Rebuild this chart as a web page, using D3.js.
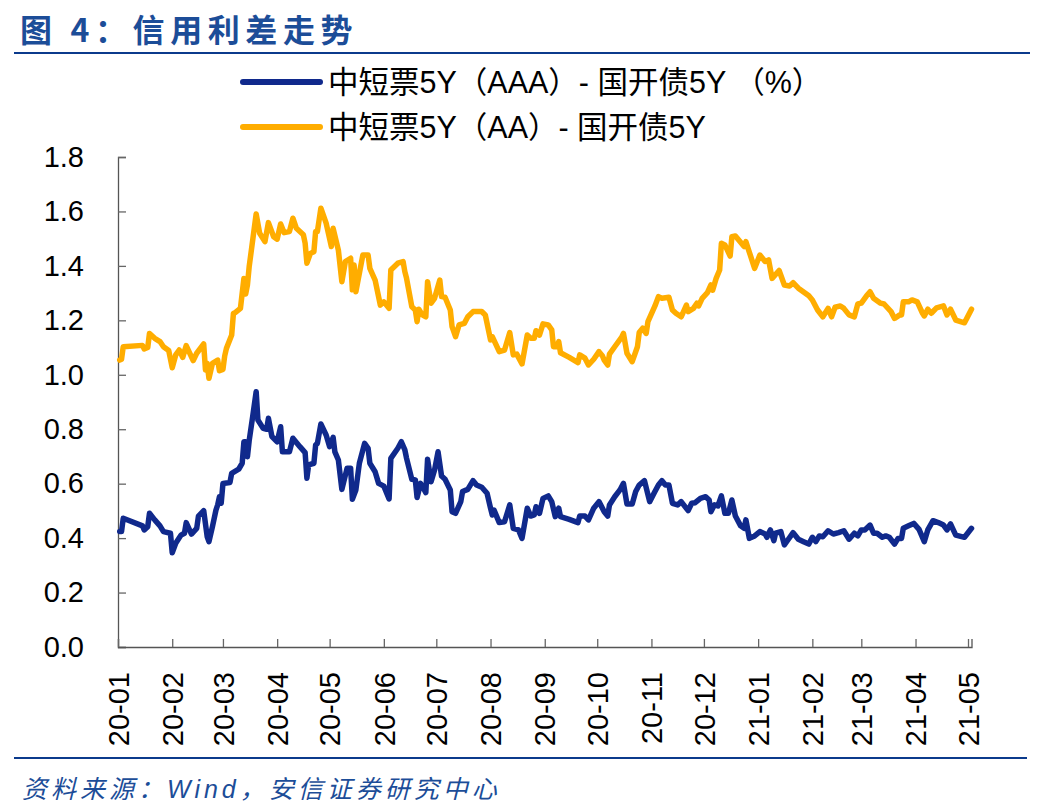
<!DOCTYPE html>
<html>
<head>
<meta charset="utf-8">
<script src="https://cdn.jsdelivr.net/npm/d3@7"></script>
<style>
	body { margin: 0; background: #fff; }
	svg { display: block; font-family: "Liberation Sans", "Noto Sans CJK SC", sans-serif; }
</style>
</head>
<body>
<svg class="svgWrapper" width="1052" height="807"></svg>
<script>

// 中短票5Y(AAA) - 国开债5Y
const aaaSpread = [
	["2020-01-02",0.424],["2020-01-03",0.424],["2020-01-04",0.473],["2020-01-15",0.445],["2020-01-16",0.43],["2020-01-18",0.442],
	["2020-01-19",0.491],["2020-01-22",0.467],["2020-01-25",0.445],["2020-01-27",0.424],["2020-01-31",0.418],["2020-02-01",0.346],
	["2020-02-03",0.381],["2020-02-06",0.411],["2020-02-08",0.418],["2020-02-09",0.457],["2020-02-12",0.415],["2020-02-15",0.436],
	["2020-02-16",0.481],["2020-02-19",0.501],["2020-02-21",0.405],["2020-02-22",0.387],["2020-02-24",0.442],["2020-02-26",0.503],
	["2020-02-27",0.522],["2020-02-28",0.552],["2020-02-29",0.528],["2020-03-01",0.601],["2020-03-05",0.604],["2020-03-06",0.638],
	["2020-03-10",0.653],["2020-03-12",0.675],["2020-03-13",0.754],["2020-03-14",0.754],["2020-03-15",0.699],["2020-03-16",0.758],
	["2020-03-18",0.846],["2020-03-20",0.938],["2020-03-21",0.834],["2020-03-24",0.803],["2020-03-26",0.80],["2020-03-27",0.84],
	["2020-03-29",0.773],["2020-04-01",0.754],["2020-04-03",0.809],["2020-04-04",0.717],["2020-04-08",0.717],["2020-04-10",0.767],
	["2020-04-14",0.736],["2020-04-17",0.714],["2020-04-18",0.62],["2020-04-19",0.669],["2020-04-22",0.675],["2020-04-23",0.742],
	["2020-04-24",0.748],["2020-04-26",0.819],["2020-04-29",0.779],["2020-05-01",0.736],["2020-05-03",0.77],["2020-05-04",0.717],
	["2020-05-06",0.687],["2020-05-08",0.579],["2020-05-11",0.657],["2020-05-13",0.657],["2020-05-14",0.543],["2020-05-16",0.577],
	["2020-05-18",0.675],["2020-05-21",0.748],["2020-05-23",0.73],["2020-05-24",0.675],["2020-05-27",0.644],["2020-05-29",0.601],
	["2020-06-01",0.591],["2020-06-04",0.544],["2020-06-05",0.693],["2020-06-09",0.73],["2020-06-11",0.754],["2020-06-13",0.724],
	["2020-06-14",0.693],["2020-06-17",0.616],["2020-06-19",0.614],["2020-06-20",0.549],["2020-06-22",0.601],["2020-06-23",0.591],
	["2020-06-25",0.567],["2020-06-26",0.69],["2020-06-28",0.607],["2020-06-30",0.65],["2020-07-02",0.717],["2020-07-04",0.628],
	["2020-07-06",0.616],["2020-07-09",0.577],["2020-07-10",0.497],["2020-07-12",0.491],["2020-07-15",0.534],["2020-07-16",0.571],
	["2020-07-19",0.579],["2020-07-22",0.611],["2020-07-24",0.595],["2020-07-27",0.587],["2020-07-30",0.565],["2020-08-01",0.51],
	["2020-08-02",0.485],["2020-08-03",0.503],["2020-08-06",0.457],["2020-08-09",0.46],["2020-08-12",0.522],["2020-08-14",0.436],
	["2020-08-17",0.43],["2020-08-19",0.399],["2020-08-22",0.51],["2020-08-24",0.481],["2020-08-26",0.485],["2020-08-27",0.515],
	["2020-08-29",0.491],["2020-08-31",0.546],["2020-09-03",0.555],["2020-09-05",0.534],["2020-09-07",0.479],["2020-09-09",0.51],
	["2020-09-10",0.479],["2020-09-15",0.469],["2020-09-20",0.457],["2020-09-21",0.481],["2020-09-24",0.481],["2020-09-26",0.467],
	["2020-09-29",0.51],["2020-10-02",0.534],["2020-10-05",0.497],["2020-10-07",0.481],["2020-10-08",0.522],["2020-10-11",0.552],
	["2020-10-14",0.577],["2020-10-16",0.601],["2020-10-18",0.525],["2020-10-21",0.525],["2020-10-23",0.571],["2020-10-25",0.595],
	["2020-10-28",0.611],["2020-10-31",0.534],["2020-11-03",0.571],["2020-11-05",0.595],["2020-11-07",0.611],["2020-11-09",0.595],
	["2020-11-11",0.595],["2020-11-13",0.528],["2020-11-16",0.522],["2020-11-18",0.534],["2020-11-22",0.501],["2020-11-24",0.528],
	["2020-11-26",0.53],["2020-11-29",0.546],["2020-12-02",0.552],["2020-12-04",0.54],["2020-12-05",0.497],["2020-12-07",0.522],
	["2020-12-09",0.518],["2020-12-11",0.555],["2020-12-13",0.491],["2020-12-15",0.491],["2020-12-17",0.54],["2020-12-19",0.481],
	["2020-12-22",0.445],["2020-12-24",0.436],["2020-12-25",0.467],["2020-12-27",0.399],["2020-12-30",0.408],["2021-01-02",0.424],
	["2021-01-05",0.415],["2021-01-06",0.403],["2021-01-08",0.43],["2021-01-10",0.391],["2021-01-11",0.418],["2021-01-14",0.424],
	["2021-01-16",0.375],["2021-01-18",0.393],["2021-01-21",0.42],["2021-01-24",0.396],["2021-01-27",0.387],["2021-01-30",0.378],
	["2021-02-01",0.403],["2021-02-03",0.387],["2021-02-05",0.408],["2021-02-07",0.405],["2021-02-10",0.427],["2021-02-13",0.415],
	["2021-02-16",0.42],["2021-02-19",0.427],["2021-02-22",0.396],["2021-02-25",0.418],["2021-02-27",0.408],["2021-03-01",0.43],
	["2021-03-03",0.43],["2021-03-06",0.448],["2021-03-08",0.418],["2021-03-10",0.418],["2021-03-13",0.403],["2021-03-15",0.408],
	["2021-03-17",0.403],["2021-03-20",0.378],["2021-03-22",0.399],["2021-03-24",0.399],["2021-03-25",0.436],["2021-03-28",0.445],
	["2021-03-31",0.454],["2021-04-03",0.432],["2021-04-06",0.387],["2021-04-08",0.43],["2021-04-11",0.464],["2021-04-14",0.457],
	["2021-04-17",0.448],["2021-04-19",0.43],["2021-04-21",0.452],["2021-04-24",0.411],["2021-04-29",0.403],["2021-05-03",0.436]
];

// 中短票5Y(AA) - 国开债5Y
const aaSpread = [
	["2020-01-02",1.054],["2020-01-03",1.057],["2020-01-04",1.103],["2020-01-15",1.108],["2020-01-16",1.095],["2020-01-18",1.10],
	["2020-01-19",1.152],["2020-01-22",1.134],["2020-01-25",1.122],["2020-01-27",1.103],["2020-01-30",1.089],["2020-02-01",1.026],
	["2020-02-03",1.073],["2020-02-05",1.091],["2020-02-07",1.064],["2020-02-09",1.107],["2020-02-13",1.052],["2020-02-15",1.079],
	["2020-02-19",1.113],["2020-02-20",1.018],["2020-02-21",1.042],["2020-02-22",0.987],["2020-02-24",1.042],["2020-02-27",1.054],
	["2020-02-28",1.015],["2020-03-01",1.02],["2020-03-02",1.069],["2020-03-03",1.097],["2020-03-06",1.146],["2020-03-07",1.226],
	["2020-03-08",1.228],["2020-03-11",1.244],["2020-03-13",1.354],["2020-03-14",1.297],["2020-03-15",1.33],["2020-03-16",1.397],
	["2020-03-20",1.591],["2020-03-22",1.52],["2020-03-25",1.489],["2020-03-27",1.559],["2020-03-30",1.507],["2020-04-01",1.498],
	["2020-04-03",1.554],["2020-04-05",1.522],["2020-04-08",1.526],["2020-04-10",1.575],["2020-04-12",1.538],["2020-04-16",1.514],
	["2020-04-17",1.483],["2020-04-18",1.41],["2020-04-20",1.446],["2020-04-22",1.452],["2020-04-23",1.526],["2020-04-24",1.526],
	["2020-04-26",1.612],["2020-04-29",1.557],["2020-05-02",1.471],["2020-05-03",1.538],["2020-05-06",1.458],["2020-05-08",1.342],
	["2020-05-10",1.416],["2020-05-13",1.428],["2020-05-14",1.312],["2020-05-15",1.403],["2020-05-16",1.305],["2020-05-20",1.44],
	["2020-05-23",1.44],["2020-05-24",1.391],["2020-05-27",1.348],["2020-05-30",1.256],["2020-06-01",1.268],["2020-06-04",1.244],
	["2020-06-05",1.385],["2020-06-09",1.41],["2020-06-12",1.416],["2020-06-13",1.379],["2020-06-14",1.354],["2020-06-17",1.25],
	["2020-06-19",1.238],["2020-06-20",1.195],["2020-06-21",1.241],["2020-06-23",1.22],["2020-06-25",1.213],["2020-06-26",1.342],
	["2020-06-28",1.263],["2020-06-30",1.281],["2020-07-03",1.348],["2020-07-04",1.287],["2020-07-06",1.285],["2020-07-09",1.238],
	["2020-07-10",1.177],["2020-07-12",1.14],["2020-07-14",1.183],["2020-07-17",1.189],["2020-07-19",1.213],["2020-07-22",1.232],
	["2020-07-27",1.232],["2020-07-29",1.22],["2020-08-01",1.128],["2020-08-02",1.14],["2020-08-06",1.085],["2020-08-09",1.091],
	["2020-08-12",1.155],["2020-08-14",1.073],["2020-08-16",1.076],["2020-08-19",1.04],["2020-08-22",1.146],["2020-08-24",1.134],
	["2020-08-26",1.134],["2020-08-27",1.162],["2020-08-29",1.146],["2020-08-31",1.187],["2020-09-03",1.183],["2020-09-05",1.165],
	["2020-09-06",1.103],["2020-09-08",1.103],["2020-09-09",1.122],["2020-09-10",1.081],["2020-09-15",1.064],["2020-09-20",1.045],
	["2020-09-21",1.073],["2020-09-24",1.061],["2020-09-26",1.036],["2020-09-29",1.057],["2020-10-02",1.085],["2020-10-04",1.069],
	["2020-10-05",1.054],["2020-10-07",1.036],["2020-10-08",1.076],["2020-10-11",1.103],["2020-10-15",1.138],["2020-10-16",1.152],
	["2020-10-18",1.079],["2020-10-21",1.048],["2020-10-24",1.103],["2020-10-25",1.155],["2020-10-27",1.171],["2020-10-29",1.152],
	["2020-10-30",1.195],["2020-11-03",1.253],["2020-11-05",1.287],["2020-11-07",1.281],["2020-11-11",1.285],["2020-11-13",1.238],
	["2020-11-15",1.226],["2020-11-18",1.213],["2020-11-21",1.256],["2020-11-22",1.232],["2020-11-25",1.244],["2020-11-27",1.263],
	["2020-11-28",1.253],["2020-11-30",1.281],["2020-12-03",1.302],["2020-12-05",1.33],["2020-12-06",1.311],["2020-12-08",1.354],
	["2020-12-10",1.385],["2020-12-11",1.483],["2020-12-13",1.477],["2020-12-16",1.436],["2020-12-17",1.507],["2020-12-19",1.51],
	["2020-12-24",1.471],["2020-12-25",1.489],["2020-12-27",1.45],["2020-12-30",1.391],["2021-01-02",1.44],["2021-01-05",1.416],
	["2021-01-07",1.422],["2021-01-09",1.354],["2021-01-13",1.383],["2021-01-16",1.33],["2021-01-19",1.326],["2021-01-21",1.338],
	["2021-01-24",1.318],["2021-01-30",1.29],["2021-02-01",1.275],["2021-02-04",1.238],["2021-02-07",1.213],["2021-02-10",1.244],
	["2021-02-12",1.213],["2021-02-14",1.248],["2021-02-17",1.253],["2021-02-19",1.244],["2021-02-22",1.22],["2021-02-25",1.213],
	["2021-02-27",1.26],["2021-03-01",1.263],["2021-03-04",1.29],["2021-03-06",1.305],["2021-03-08",1.281],["2021-03-12",1.263],
	["2021-03-14",1.26],["2021-03-18",1.232],["2021-03-20",1.207],["2021-03-23",1.22],["2021-03-24",1.22],["2021-03-25",1.268],
	["2021-03-28",1.268],["2021-03-30",1.275],["2021-04-02",1.268],["2021-04-05",1.226],["2021-04-06",1.216],["2021-04-08",1.241],
	["2021-04-10",1.226],["2021-04-13",1.246],["2021-04-17",1.253],["2021-04-19",1.22],["2021-04-21",1.241],["2021-04-24",1.201],
	["2021-04-29",1.191],["2021-05-03",1.241]
];

const seriesNames = ['中短票5Y（AAA）- 国开债5Y （%）', '中短票5Y（AA）- 国开债5Y'];
const seriesColors = ['#10298c', '#ffad00'];
const yTickValues = [0, 0.2, 0.4, 0.6, 0.8, 1.0, 1.2, 1.4, 1.6, 1.8];
const dateRange = ['2020-01-01', '2021-05-03'];
const titleText = '图 4：信用利差走势';
const sourceText = '资料来源：Wind，安信证券研究中心';

const svgObj = d3.select('.svgWrapper');
const parseDate = d3.utcParse('%Y-%m-%d');
const brandBlue = '#1c4d98';

//plot box
const plotLeft = 118, plotRight = 971.5, plotTop = 157, plotBottom = 647;

const xScale = d3.scaleUtc()
	.domain(dateRange.map(parseDate))
	.range([plotLeft, plotRight]);

const yScale = d3.scaleLinear()
	.domain([0, 1.8])
	.range([plotBottom, plotTop]);

//title + rules
svgObj.append('text')
	.attr('x', 20)
	.attr('y', 42)
	.attr('fill', brandBlue)
	.attr('font-family', '"Noto Sans CJK SC", sans-serif')
	.attr('font-weight', 'bold')
	.attr('font-size', 32)
	.attr('letter-spacing', 5.6)
	.text(titleText);

svgObj.append('line')
	.attr('x1', 14).attr('x2', 1030)
	.attr('y1', 53).attr('y2', 53)
	.attr('stroke', '#0b3a8c')
	.attr('stroke-width', 2);

svgObj.append('line')
	.attr('x1', 14).attr('x2', 1027)
	.attr('y1', 758).attr('y2', 758)
	.attr('stroke', '#0b3a8c')
	.attr('stroke-width', 2);

svgObj.append('text')
	.attr('x', 22)
	.attr('y', 798)
	.attr('fill', brandBlue)
	.attr('font-style', 'italic')
	.attr('font-size', 25)
	.attr('letter-spacing', 4)
	.text(sourceText);

//axes
const yAxis = d3.axisLeft(yScale)
	.tickValues(yTickValues)
	.tickFormat(d3.format('.1f'))
	.tickSize(-8)
	.tickPadding(34);

const yAxisG = svgObj.append('g')
	.attr('transform', `translate(${plotLeft},0)`)
	.call(yAxis);

const xAxis = d3.axisBottom(xScale)
	.ticks(d3.utcMonth.every(1))
	.tickFormat(d3.utcFormat('%y-%m'))
	.tickSize(-8);

const xAxisG = svgObj.append('g')
	.attr('transform', `translate(0,${plotBottom})`)
	.call(xAxis);

//rotate the month labels
xAxisG.selectAll('.tick text')
	.attr('transform', 'rotate(-90)')
	.attr('text-anchor', 'end')
	.attr('x', -25)
	.attr('y', 0)
	.attr('dy', '0.35em');

[yAxisG, xAxisG].forEach(g => {
	g.selectAll('text')
		.attr('font-size', 29)
		.attr('font-family', '"Liberation Sans", sans-serif')
		.attr('fill', '#000');
	g.selectAll('.tick line').attr('stroke', '#666').attr('stroke-width', 1.3);
	g.select('.domain').attr('stroke', '#555').attr('stroke-width', 1.3);
});

//lines
const lineGen = d3.line()
	.x(d => xScale(parseDate(d[0])))
	.y(d => yScale(d[1]));

const mapG = svgObj.append('g');
[aaaSpread, aaSpread].forEach((series, i) => {
	mapG.append('path')
		.datum(series)
		.attr('d', lineGen)
		.attr('fill', 'none')
		.attr('stroke', seriesColors[i])
		.attr('stroke-width', 5.5)
		.attr('stroke-linejoin', 'round')
		.attr('stroke-linecap', 'round');
});

//legend
const colorLegendG = svgObj.append('g')
	.attr('transform', 'translate(243,82)');

const legendRows = colorLegendG.selectAll('g')
	.data(seriesNames)
	.join('g')
	.attr('transform', (d, i) => `translate(0,${i * 45})`);

legendRows.append('line')
	.attr('x1', 0).attr('x2', 77)
	.attr('stroke', (d, i) => seriesColors[i])
	.attr('stroke-width', 6)
	.attr('stroke-linecap', 'round');

legendRows.append('text')
	.attr('x', 85)
	.attr('dy', '0.36em')
	.attr('font-size', 30.5)
	.attr('fill', '#000')
	.text(d => d);

</script>
</body>
</html>
